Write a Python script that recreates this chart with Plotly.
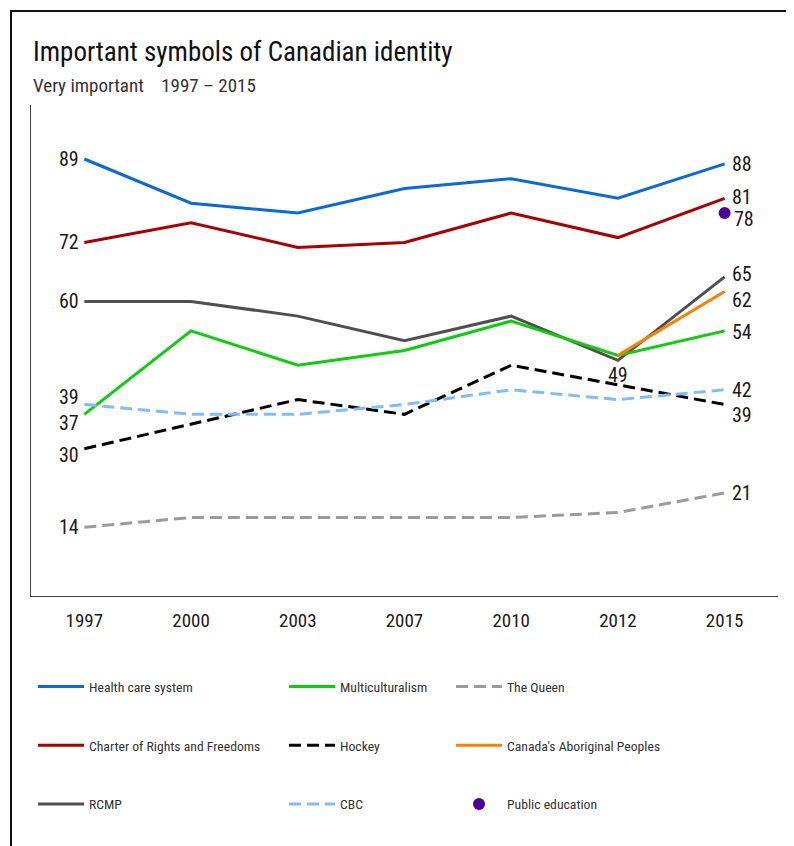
import plotly.graph_objects as go

years = ["1997", "2000", "2003", "2007", "2010", "2012", "2015"]

health = [89, 80, 78, 83, 85, 81, 88]
charter = [72, 76, 71, 72, 78, 73, 81]
rcmp = [60, 60, 57, 52, 57, 48, 65]
multi = [37, 54, 47, 50, 56, 49, 54]
hockey = [30, 35, 40, 37, 47, 43, 39]
cbc = [39, 37, 37, 39, 42, 40, 42]
queen = [14, 16, 16, 16, 16, 17, 21]
aboriginal_years = ["2012", "2015"]
aboriginal = [49, 62]
public_ed_years = ["2015"]
public_ed = [78]

FONT = "Roboto Condensed, Liberation Sans Narrow, DejaVu Sans Condensed, sans-serif"
TXT = "#1a1a1a"

# name, x, y, color, dash, legend, rank
series = [
    ("Health care system", years, health, "#0a6ad6", "solid", "legend", 1),
    ("Charter of Rights and Freedoms", years, charter, "#a80000", "solid", "legend", 2),
    ("RCMP", years, rcmp, "#4f4f4f", "solid", "legend", 3),
    ("Multiculturalism", years, multi, "#10cc10", "solid", "legend2", 4),
    ("Hockey", years, hockey, "#000000", "12px,6px", "legend2", 5),
    ("CBC", years, cbc, "#80bcff", "12px,6px", "legend2", 6),
    ("The Queen", years, queen, "#9b9b9b", "12px,6px", "legend3", 7),
    ("Canada's Aboriginal Peoples", aboriginal_years, aboriginal, "#ff8000", "solid", "legend3", 8),
]

fig = go.Figure()
for name, xs, ys, color, dash, leg, rank in series:
    fig.add_trace(go.Scatter(
        x=xs, y=ys, name=name, mode="lines",
        line=dict(color=color, width=3, dash=dash),
        legend=leg, legendgroup=name, legendrank=rank,
        hoverinfo="skip",
    ))
fig.add_trace(go.Scatter(
    x=public_ed_years, y=public_ed, name="Public education", mode="markers",
    marker=dict(color="#4b0099", size=12),
    legend="legend3", legendgroup="Public education", legendrank=9,
))

# value labels (x given as category index on the category axis)
ann = []
def lab(year, y, xanchor, xshift, yshift=0):
    ann.append(dict(x=years.index(year), y=y, xref="x", yref="y", text=str(y),
                    showarrow=False, xanchor=xanchor, yanchor="middle",
                    xshift=xshift, yshift=yshift,
                    font=dict(family=FONT, size=20, color=TXT)))

first_shift = {39: 8, 37: -9, 30: -6}
for arr in [health, charter, rcmp, cbc, multi, hockey, queen]:
    lab(years[0], arr[0], "right", -3, first_shift.get(arr[0], 0))

last_shift = {81: 1, 65: 3, 54: -1, 39: -10}
for arr in [health, charter, rcmp, multi, hockey, cbc, queen]:
    lab(years[-1], arr[-1], "left", 5, last_shift.get(arr[-1], 0))
lab(aboriginal_years[-1], aboriginal[-1], "left", 5, -8)
lab(public_ed_years[0], public_ed[0], "left", 7, -6)
lab(aboriginal_years[0], aboriginal[0], "center", 0, -20)

fig.update_layout(
    width=794, height=846,
    margin=dict(l=23, r=24, t=97, b=258, autoexpand=False),
    paper_bgcolor="white", plot_bgcolor="white",
    font=dict(family=FONT, color=TXT),
    showlegend=True,
    annotations=ann + [
        dict(text="Important symbols of Canadian identity", xref="paper", yref="paper",
             x=0, y=(596 - 52) / 491, xanchor="left", yanchor="middle",
             showarrow=False, font=dict(family=FONT, size=27, color="#111")),
        dict(text="Very important    1997 – 2015", xref="paper", yref="paper",
             x=0, y=(596 - 85) / 491, xanchor="left", yanchor="middle",
             showarrow=False, font=dict(family=FONT, size=19, color="#333")),
    ],
    shapes=[dict(type="rect", xref="paper", yref="paper",
                 x0=(11 - 31) / 747, x1=1.2, y0=-0.7, y1=(596 - 11) / 491,
                 line=dict(color="#111", width=2), layer="below")],
    xaxis=dict(type="category", range=[-0.5, 6.5], showgrid=False, zeroline=False,
               showline=True, linecolor="#444", linewidth=1, ticks="",
               tickfont=dict(family=FONT, size=19, color=TXT), ticklabelstandoff=7,
               fixedrange=True),
    yaxis=dict(range=[0, 100], showgrid=False, zeroline=False, showline=True,
               linecolor="#444", linewidth=1, showticklabels=False, ticks="",
               fixedrange=True),
)

legend_common = dict(xref="container", yref="container", xanchor="left", yanchor="top",
                     y=1 - 663 / 846, bgcolor="rgba(0,0,0,0)", itemwidth=46,
                     tracegroupgap=38, font=dict(family=FONT, size=13.7, color="#333"),
                     orientation="v")
fig.update_layout(
    legend=dict(x=25 / 794, **legend_common),
    legend2=dict(x=276 / 794, **legend_common),
    legend3=dict(x=443 / 794, **legend_common),
)

fig.write_html("out.html")
